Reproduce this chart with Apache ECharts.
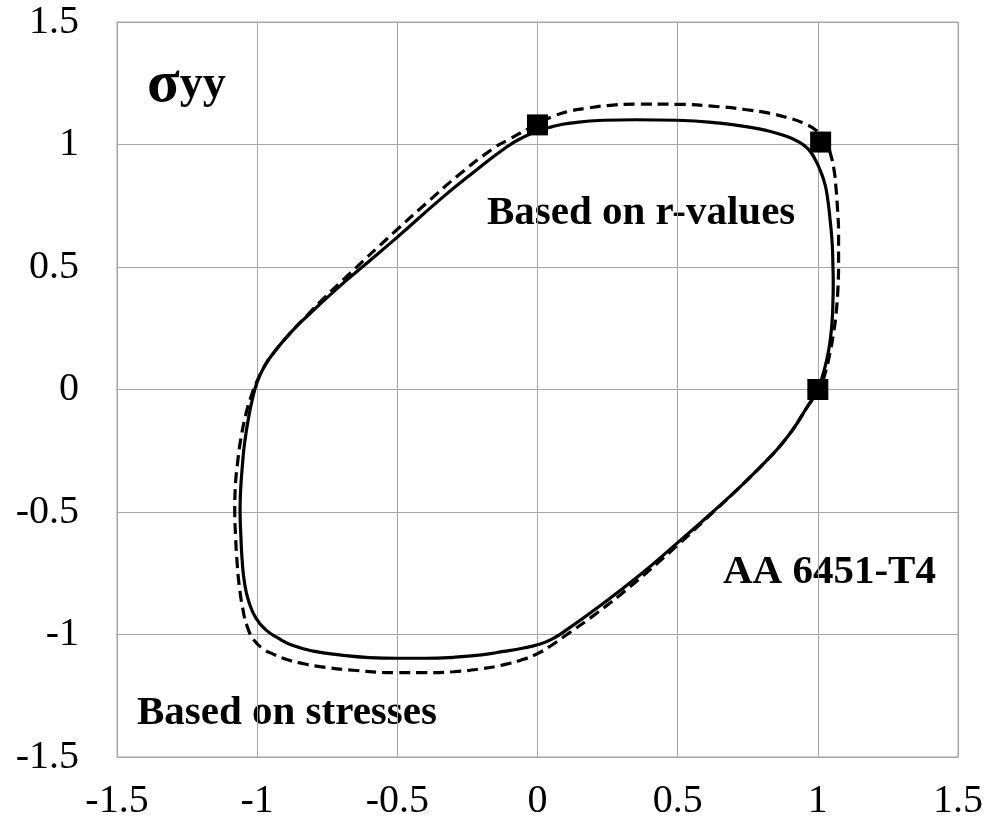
<!DOCTYPE html>
<html>
<head>
<meta charset="utf-8">
<script src="https://cdn.jsdelivr.net/npm/echarts@6/dist/echarts.min.js"></script>
<style>
  html, body { margin: 0; padding: 0; background: #ffffff; }
  #chart { width: 997px; height: 828px; }
</style>
</head>
<body>
<div id="chart"></div>
<script>
// Axis ticks (both axes share the same range)
const tickValues = [-1.5, -1, -0.5, 0, 0.5, 1, 1.5];

// Yield locus fitted from r-values (solid), [σxx, σyy]
const rValueLocus = [
  [1.000, 0.000], [1.014, 0.045], [1.026, 0.093], [1.037, 0.150], [1.044, 0.200],
  [1.051, 0.280], [1.054, 0.365], [1.055, 0.430], [1.054, 0.500], [1.051, 0.600],
  [1.044, 0.690], [1.036, 0.770], [1.026, 0.835], [1.010, 0.890], [0.990, 0.940],
  [0.965, 0.982], [0.930, 1.012], [0.877, 1.038], [0.820, 1.056], [0.770, 1.068],
  [0.651, 1.087], [0.497, 1.099], [0.350, 1.101], [0.235, 1.099], [0.116, 1.087],
  [0.050, 1.072], [0.000, 1.055], [-0.050, 1.030], [-0.110, 0.990], [-0.229, 0.886],
  [-0.348, 0.775], [-0.502, 0.620], [-0.622, 0.503], [-0.705, 0.422], [-0.824, 0.297],
  [-0.883, 0.229], [-0.943, 0.147], [-0.975, 0.093], [-1.000, 0.030], [-1.015, -0.029],
  [-1.030, -0.111], [-1.045, -0.220], [-1.053, -0.315], [-1.059, -0.410], [-1.061, -0.496],
  [-1.058, -0.600], [-1.054, -0.690], [-1.045, -0.790], [-1.030, -0.865], [-1.005, -0.932],
  [-0.970, -0.980], [-0.925, -1.015], [-0.872, -1.045], [-0.800, -1.068], [-0.700, -1.084],
  [-0.600, -1.094], [-0.500, -1.097], [-0.400, -1.097], [-0.300, -1.093], [-0.200, -1.083],
  [-0.120, -1.069], [-0.050, -1.055], [0.000, -1.042], [0.050, -1.020], [0.100, -0.984],
  [0.211, -0.893], [0.366, -0.756], [0.500, -0.625], [0.627, -0.498], [0.734, -0.385],
  [0.830, -0.275], [0.880, -0.210], [0.925, -0.140], [0.960, -0.075], [0.984, -0.034],
  [1.000, 0.000]
];

// Yield locus fitted from stresses (dashed), [σxx, σyy]
const stressLocus = [
  [0.925, -0.140], [0.960, -0.075], [0.984, -0.034], [1.002, 0.000], [1.014, 0.025],
  [1.027, 0.070], [1.038, 0.120], [1.056, 0.229], [1.066, 0.320], [1.072, 0.420],
  [1.074, 0.520], [1.074, 0.637], [1.070, 0.740], [1.065, 0.820], [1.058, 0.895],
  [1.046, 0.958], [1.030, 1.008], [1.000, 1.052], [0.949, 1.087], [0.890, 1.110],
  [0.830, 1.127], [0.740, 1.143], [0.651, 1.154], [0.497, 1.164], [0.354, 1.165],
  [0.250, 1.159], [0.176, 1.148], [0.110, 1.135], [0.056, 1.115], [0.000, 1.085],
  [-0.040, 1.060], [-0.100, 1.022], [-0.158, 0.984], [-0.288, 0.869], [-0.384, 0.773],
  [-0.515, 0.638], [-0.669, 0.474], [-0.760, 0.375], [-0.824, 0.300], [-0.883, 0.229],
  [-0.943, 0.147], [-0.975, 0.093], [-1.002, 0.030], [-1.022, -0.030], [-1.040, -0.100],
  [-1.058, -0.200], [-1.070, -0.300], [-1.078, -0.400], [-1.080, -0.496], [-1.077, -0.600],
  [-1.072, -0.700], [-1.064, -0.800], [-1.052, -0.890], [-1.036, -0.965], [-1.012, -1.022],
  [-0.979, -1.058], [-0.943, -1.080], [-0.900, -1.100], [-0.848, -1.116], [-0.776, -1.131],
  [-0.657, -1.146], [-0.500, -1.156], [-0.400, -1.156], [-0.300, -1.152], [-0.200, -1.140],
  [-0.122, -1.124], [-0.060, -1.105], [0.000, -1.078], [0.045, -1.048], [0.090, -1.012],
  [0.211, -0.913], [0.330, -0.805], [0.500, -0.635], [0.627, -0.500], [0.734, -0.385],
  [0.830, -0.275], [0.880, -0.210], [0.925, -0.140]
];

// Measured yield stresses (square markers)
const measuredPoints = [[0.00, 1.08], [1.01, 1.01], [1.00, 0.00]];

const FONT = '"Liberation Serif", "Times New Roman", serif';
const gridColor = '#a6a6a6';

const chart = echarts.init(document.getElementById('chart'), null, { renderer: 'canvas' });

const axisCommon = {
  type: 'value',
  min: tickValues[0],
  max: tickValues[tickValues.length - 1],
  interval: tickValues[1] - tickValues[0],
  axisLine: { show: true, onZero: false, lineStyle: { color: gridColor, width: 1 } },
  axisTick: { show: false },
  splitLine: { show: true, lineStyle: { color: gridColor, width: 1 } },
  axisLabel: { color: '#000', fontFamily: FONT, fontSize: 40 }
};

chart.setOption({
  animation: false,
  backgroundColor: '#ffffff',
  grid: {
    left: 117, top: 22, right: 39, bottom: 71,
    show: true, borderColor: gridColor, borderWidth: 1
  },
  xAxis: Object.assign({}, axisCommon, {
    axisLabel: Object.assign({}, axisCommon.axisLabel, { margin: 24 })
  }),
  yAxis: Object.assign({}, axisCommon, {
    axisLabel: Object.assign({}, axisCommon.axisLabel, { margin: 38 })
  }),
  series: [
    {
      name: 'Based on r-values',
      type: 'line',
      data: rValueLocus,
      smooth: 0.5,
      showSymbol: false,
      lineStyle: { color: '#000', width: 3.2, type: 'solid' },
      z: 3
    },
    {
      name: 'Based on stresses',
      type: 'line',
      data: stressLocus,
      smooth: 0.5,
      showSymbol: false,
      lineStyle: { color: '#000', width: 3.2, type: [11, 6] },
      z: 3
    },
    {
      name: 'Measured',
      type: 'scatter',
      data: measuredPoints,
      symbol: 'rect',
      symbolSize: 21,
      itemStyle: { color: '#000', opacity: 1 },
      z: 5
    }
  ],
  graphic: [
    {
      type: 'text', left: 147, top: 55,
      style: {
        text: '{s|σ}{y|yy}',
        rich: {
          s: { fontFamily: FONT, fontWeight: 'bold', fontSize: 60, fill: '#000' },
          y: { fontFamily: FONT, fontWeight: 'bold', fontSize: 46, fill: '#000' }
        }
      }
    },
    {
      type: 'text', left: 487, top: 193,
      style: { text: 'Based on r-values', fontFamily: FONT, fontWeight: 'bold', fontSize: 41, fill: '#000' }
    },
    {
      type: 'text', left: 723, top: 552,
      style: { text: 'AA 6451-T4', fontFamily: FONT, fontWeight: 'bold', fontSize: 41, fill: '#000' }
    },
    {
      type: 'text', left: 137, top: 693,
      style: { text: 'Based on stresses', fontFamily: FONT, fontWeight: 'bold', fontSize: 41, fill: '#000' }
    }
  ]
});
</script>
</body>
</html>
